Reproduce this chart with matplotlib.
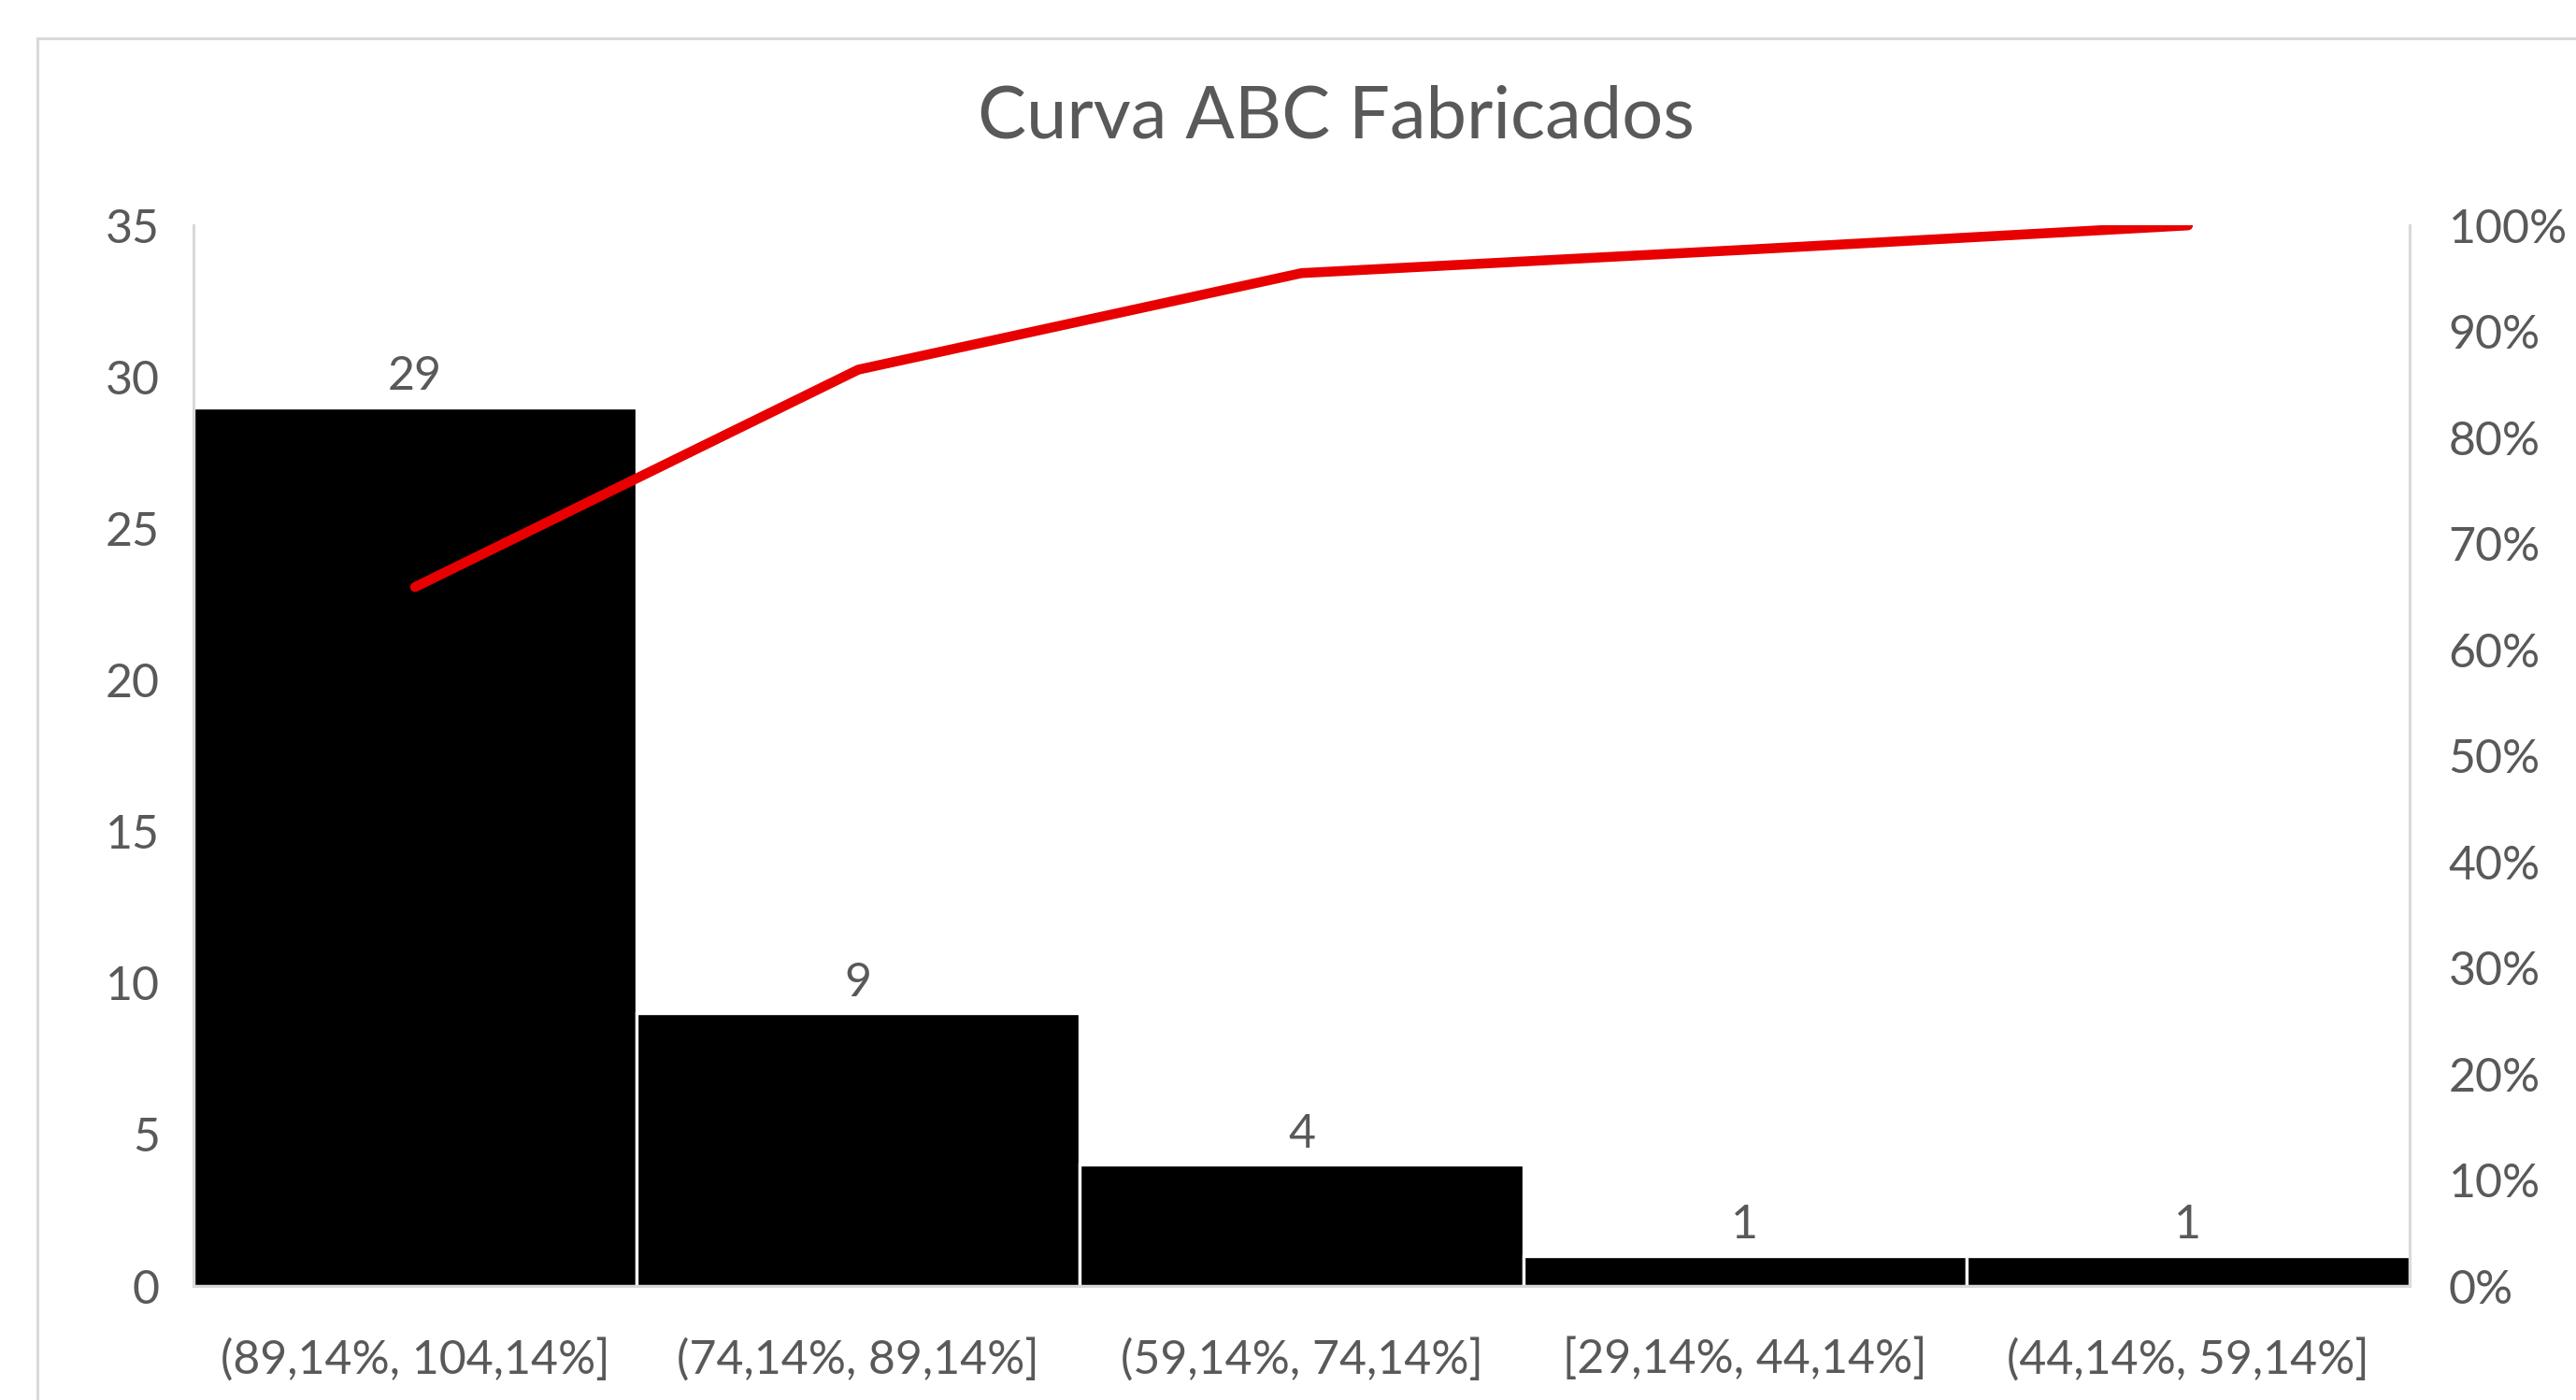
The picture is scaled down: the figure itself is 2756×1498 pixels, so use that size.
import matplotlib.pyplot as plt
from matplotlib.patches import Rectangle
from matplotlib.ticker import PercentFormatter

# data
categories = ["(89,14%, 104,14%]", "(74,14%, 89,14%]", "(59,14%, 74,14%]",
              "[29,14%, 44,14%]", "(44,14%, 59,14%]"]
counts = [29, 9, 4, 1, 1]
cumulative_pct = [65.9, 86.4, 95.5, 97.7, 100.0]

plt.rcParams['font.family'] = ['Lato', 'DejaVu Sans']
grey_txt = '#595959'
grey_line = '#D9D9D9'

fig = plt.figure(figsize=(13.78, 7.49), dpi=200)
fig.patches.append(Rectangle((40 / 2756, -0.05), 1.2, 1 - 41 / 1498 + 0.05,
                             transform=fig.transFigure, fill=False,
                             edgecolor=grey_line, linewidth=1.1))

ax = fig.add_axes([0.0751, 0.0814, 0.9354 - 0.0751, 0.839 - 0.0814])
x = list(range(len(categories)))
bars = ax.bar(x, counts, width=1.0, color='black', edgecolor='white', linewidth=1.2)
ax.set_xlim(-0.5, len(categories) - 0.5)
ax.set_ylim(0, 35)
ax.set_yticks(range(0, 36, 5))
ax.set_xticks(x)
ax.set_xticklabels(categories)
for b, v in zip(bars, counts):
    ax.annotate(str(v), (b.get_x() + b.get_width() / 2, v), xytext=(0, 3.5),
                textcoords='offset points', ha='center', va='bottom',
                fontsize=18, color=grey_txt)

ax.tick_params(axis='y', length=0, pad=13, labelsize=18, labelcolor=grey_txt)
ax.tick_params(axis='x', length=0, pad=20, labelsize=18, labelcolor=grey_txt)
ax.spines['top'].set_visible(False)
for s in ['left', 'right', 'bottom']:
    ax.spines[s].set_color(grey_line)
    ax.spines[s].set_linewidth(1.1)

ax2 = ax.twinx()
ax2.plot(x, cumulative_pct, color='#E80000', linewidth=3.8, solid_capstyle='round')
ax2.set_ylim(0, 100)
ax2.set_yticks(range(0, 101, 10))
ax2.yaxis.set_major_formatter(PercentFormatter(decimals=0))
ax2.tick_params(axis='y', length=0, pad=15, labelsize=18, labelcolor=grey_txt)
ax2.spines['top'].set_visible(False)
for s in ['left', 'right', 'bottom']:
    ax2.spines[s].set_color(grey_line)
    ax2.spines[s].set_linewidth(1.1)

fig.text(0.5185, 0.916, "Curva ABC Fabricados", ha='center', va='center',
         fontsize=28, color=grey_txt)

fig.savefig("out.png", dpi=200)
